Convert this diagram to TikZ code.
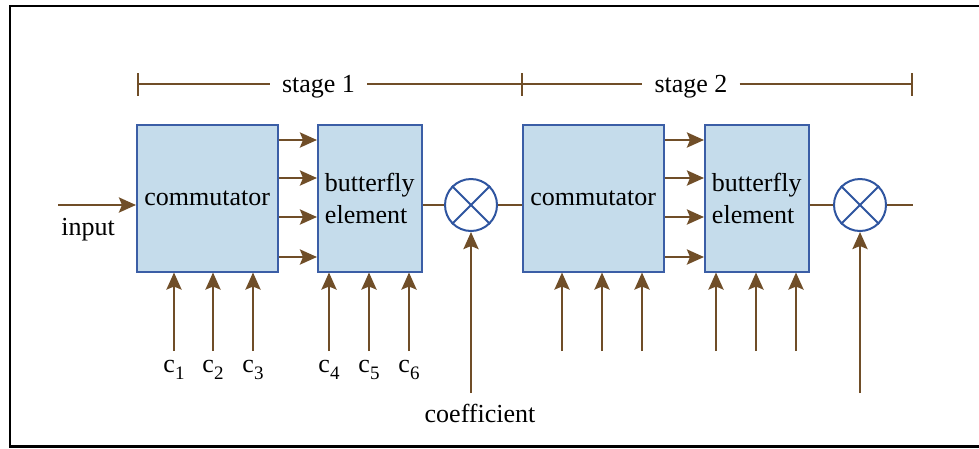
\documentclass[tikz,border=0pt]{standalone}
\usepackage{fontspec}
\newfontfamily\libser{Liberation Serif}
\usetikzlibrary{positioning,arrows.meta}
\definecolor{sigbrown}{RGB}{112,78,40}
\definecolor{boxfill}{RGB}{197,220,235}
\definecolor{boxedge}{RGB}{59,94,166}
\definecolor{mixblue}{RGB}{47,85,160}
\newcommand{\csub}[1]{c\raisebox{-7pt}{\fontsize{19}{19}\selectfont #1}}
\begin{document}
\begin{tikzpicture}[x=1pt,y=-1pt,>={Stealth[length=17pt,width=15pt,inset=3pt]},
  font=\libser\fontsize{26}{32}\selectfont,
  blk/.style={draw=boxedge,line width=1.5pt,fill=boxfill,inner sep=0pt,anchor=north west,minimum height=147pt},
  sig/.style={draw=sigbrown,line width=2.7pt},
  bar/.style={draw=sigbrown,line width=2pt},
  mix/.style={circle,draw=mixblue,line width=2pt,fill=white,minimum size=52pt,inner sep=0pt}]
  \useasboundingbox (0,0) rectangle (979,448);
  \draw[line width=2.2pt] (10,6) rectangle (995,446.5);
  % stage markers
  \coordinate (s0) at (138,84);
  \coordinate (s1) at (522,84);
  \coordinate (s2) at (912,84);
  \node[anchor=base,inner xsep=0pt] (st1) at (318.5,92) {stage 1};
  \node[anchor=base,inner xsep=0pt] (st2) at (691,92) {stage 2};
  \foreach \s in {s0,s1,s2}
    \draw[bar] (\s) ++(0,-11) -- ++(0,23);
  \draw[bar] (s0) -- ([xshift=-12pt]st1.west |- s0);
  \draw[bar] ([xshift=12pt]st1.east |- s0) -- (s1);
  \draw[bar] (s1) -- ([xshift=-12pt]st2.west |- s0);
  \draw[bar] ([xshift=12pt]st2.east |- s0) -- (s2);
  % blocks
  \node[blk,minimum width=141pt] (comm1) at (136,124) {commutator};
  \node[blk,minimum width=104pt,align=left] (bfly1) at (317,124) {butterfly\\element};
  \node[blk,minimum width=141pt] (comm2) at (522,124) {commutator};
  \node[blk,minimum width=104pt,align=left] (bfly2) at (704,124) {butterfly\\element};
  \node[mix] (mix1) at (471,205) {};
  \node[mix] (mix2) at (860,205) {};
  \foreach \m in {mix1,mix2} {
    \draw[mixblue,line width=2pt] (\m.north west) -- (\m.south east);
    \draw[mixblue,line width=2pt] (\m.north east) -- (\m.south west);
  }
  % signal path
  \coordinate (in) at (58,205);
  \coordinate (out) at (913,205);
  \draw[sig,->] (in) -- (comm1.west |- in);
  \node[anchor=base] (inlab) at (88,235) {input};
  \draw[sig] (bfly1.east |- mix1.west) -- (mix1.west);
  \draw[sig] (mix1.east) -- (comm2.west |- mix1.east);
  \draw[sig] (bfly2.east |- mix2.west) -- (mix2.west);
  \draw[sig] (mix2.east) -- (out);
  \foreach \y in {140,178,217,257} {
    \draw[sig,->] (comm1.east |- 0,\y) -- (bfly1.west |- 0,\y);
    \draw[sig,->] (comm2.east |- 0,\y) -- (bfly2.west |- 0,\y);
  }
  % control inputs
  \foreach \x/\i in {174/1,213/2,253/3} {
    \draw[sig,->] (\x,351) -- (comm1.south -| \x,0);
    \node[anchor=base] (c\i) at (\x,372) {\csub{\i}};
  }
  \foreach \x/\i in {329/4,369/5,409/6} {
    \draw[sig,->] (\x,351) -- (bfly1.south -| \x,0);
    \node[anchor=base] (c\i) at (\x,372) {\csub{\i}};
  }
  \foreach \x in {562,602,642}
    \draw[sig,->] (\x,351) -- (comm2.south -| \x,0);
  \foreach \x in {716,756,796}
    \draw[sig,->] (\x,351) -- (bfly2.south -| \x,0);
  % coefficients
  \coordinate (k1) at (471,393);
  \coordinate (k2) at (860,393);
  \draw[sig,->] (k1) -- (mix1.south);
  \draw[sig,->] (k2) -- (mix2.south);
  \node[anchor=base] (coef) at (480,422) {coefficient};
\end{tikzpicture}
\end{document}
